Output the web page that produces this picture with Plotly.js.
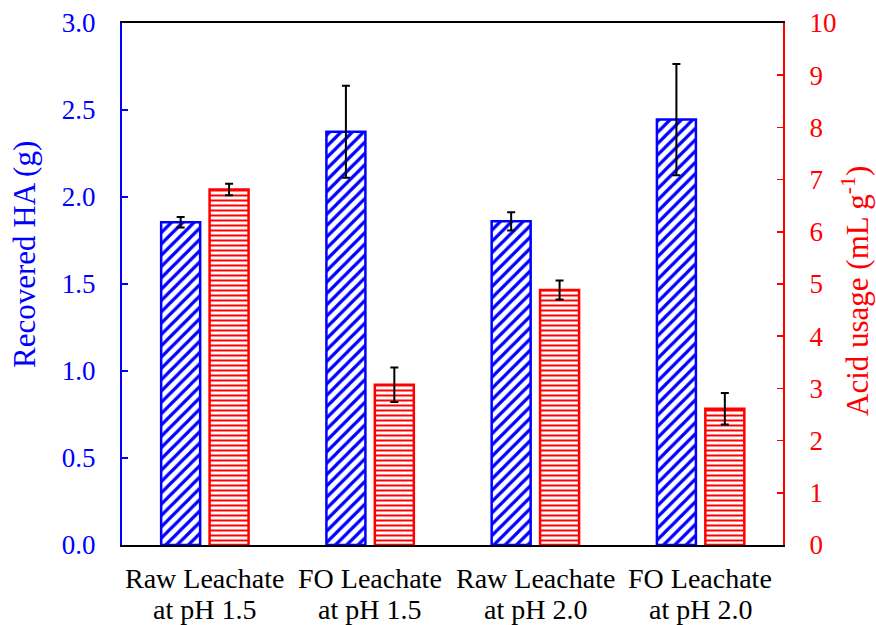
<!DOCTYPE html>
<html>
<head>
<meta charset="utf-8">
<script src="https://cdn.plot.ly/plotly-3.0.1.min.js"></script>
<style>html,body{margin:0;padding:0;background:#fff;}#chart{width:876px;height:625px;}</style>
</head>
<body>
<div id="chart"></div>
<script>
const categories = ["Raw Leachate|at pH 1.5", "FO Leachate|at pH 1.5", "Raw Leachate|at pH 2.0", "FO Leachate|at pH 2.0"];
const recoveredHA = [1.855, 2.375, 1.86, 2.445];
const recoveredHAErr = [0.03, 0.265, 0.053, 0.32];
const acidUsage = [6.81, 3.07, 4.885, 2.61];
const acidUsageErr = [0.11, 0.33, 0.18, 0.30];
const leftTicks = [0, 0.5, 1.0, 1.5, 2.0, 2.5, 3.0];
const rightTicks = [0,1,2,3,4,5,6,7,8,9,10];
const leftTitle = 'Recovered HA (g)';
const rightTitle = 'Acid usage (mL g<sup>-1</sup>)';

const xIdx = categories.map((c, i) => i);
const font = "Liberation Serif, Times New Roman, serif";

const traces = [
  {
    type: 'bar', x: xIdx, y: recoveredHA, yaxis: 'y', name: 'Recovered HA',
    offset: -0.263, width: 0.236,
    marker: {color: '#ffffff', line: {color: '#0000ff', width: 2.5},
      pattern: {shape: '/', fgcolor: '#0000ff', bgcolor: '#ffffff', size: 8, solidity: 0.4}},
    error_y: {type: 'data', array: recoveredHAErr, visible: true, color: '#000000', thickness: 2, width: 4}
  },
  {
    type: 'bar', x: xIdx, y: acidUsage, yaxis: 'y2', name: 'Acid usage',
    offset: 0.03, width: 0.236,
    marker: {color: '#ffffff', line: {color: '#ff0000', width: 2.5},
      pattern: {shape: '-', fgcolor: '#ff0000', bgcolor: '#ffffff', size: 5, solidity: 0.4}},
    error_y: {type: 'data', array: acidUsageErr, visible: true, color: '#000000', thickness: 2, width: 4}
  }
];

const annotations = [];
categories.forEach((c, i) => {
  const lines = c.split('|');
  lines.forEach((ln, j) => {
    annotations.push({
      x: i, xref: 'x', y: 0, yref: 'paper', yanchor: 'top', xanchor: 'center',
      yshift: -16 - j * 31, text: ln, showarrow: false,
      font: {family: font, size: 28, color: '#000'}
    });
  });
});
annotations.push({
  x: 0, xref: 'paper', xshift: -98, xanchor: 'center',
  y: 0.5, yref: 'paper', yshift: 29, yanchor: 'middle',
  text: leftTitle, textangle: -90, showarrow: false,
  font: {family: font, size: 31, color: '#0000ff'}
});
annotations.push({
  x: 1, xref: 'paper', xshift: 72, xanchor: 'center',
  y: 0.5, yref: 'paper', yshift: -7, yanchor: 'middle',
  text: rightTitle, textangle: -90, showarrow: false,
  font: {family: font, size: 31, color: '#ff0000'}
});

const layout = {
  width: 876, height: 625,
  margin: {l: 122, r: 93, t: 23, b: 80},
  paper_bgcolor: '#ffffff', plot_bgcolor: '#ffffff',
  showlegend: false,
  barmode: 'overlay',
  font: {family: font, size: 27, color: '#000'},
  annotations: annotations,
  xaxis: {
    range: [-0.5, 3.5], tickmode: 'array', tickvals: xIdx, showticklabels: false,
    showgrid: false, zeroline: false, showline: true, linecolor: '#000', linewidth: 2,
    mirror: true, ticks: ''
  },
  yaxis: {
    range: [0, 3.0], tickmode: 'array', tickvals: leftTicks,
    ticktext: leftTicks.map(v => v.toFixed(1)),
    showgrid: false, zeroline: false, showline: true, linecolor: '#0000ff', linewidth: 2,
    ticks: 'inside', ticklen: 6, tickwidth: 1.5, tickcolor: '#0000ff',
    tickfont: {family: font, size: 27, color: '#0000ff'}, ticklabelstandoff: 19
  },
  yaxis2: {
    range: [0, 10], overlaying: 'y', side: 'right', tickmode: 'array', tickvals: rightTicks,
    showgrid: false, zeroline: false, showline: true, linecolor: '#ff0000', linewidth: 2,
    ticks: 'inside', ticklen: 6, tickwidth: 1.5, tickcolor: '#ff0000',
    tickfont: {family: font, size: 27, color: '#ff0000'}, ticklabelstandoff: 19
  }
};

Plotly.newPlot('chart', traces, layout, {displayModeBar: false, staticPlot: true});
</script>
</body>
</html>
